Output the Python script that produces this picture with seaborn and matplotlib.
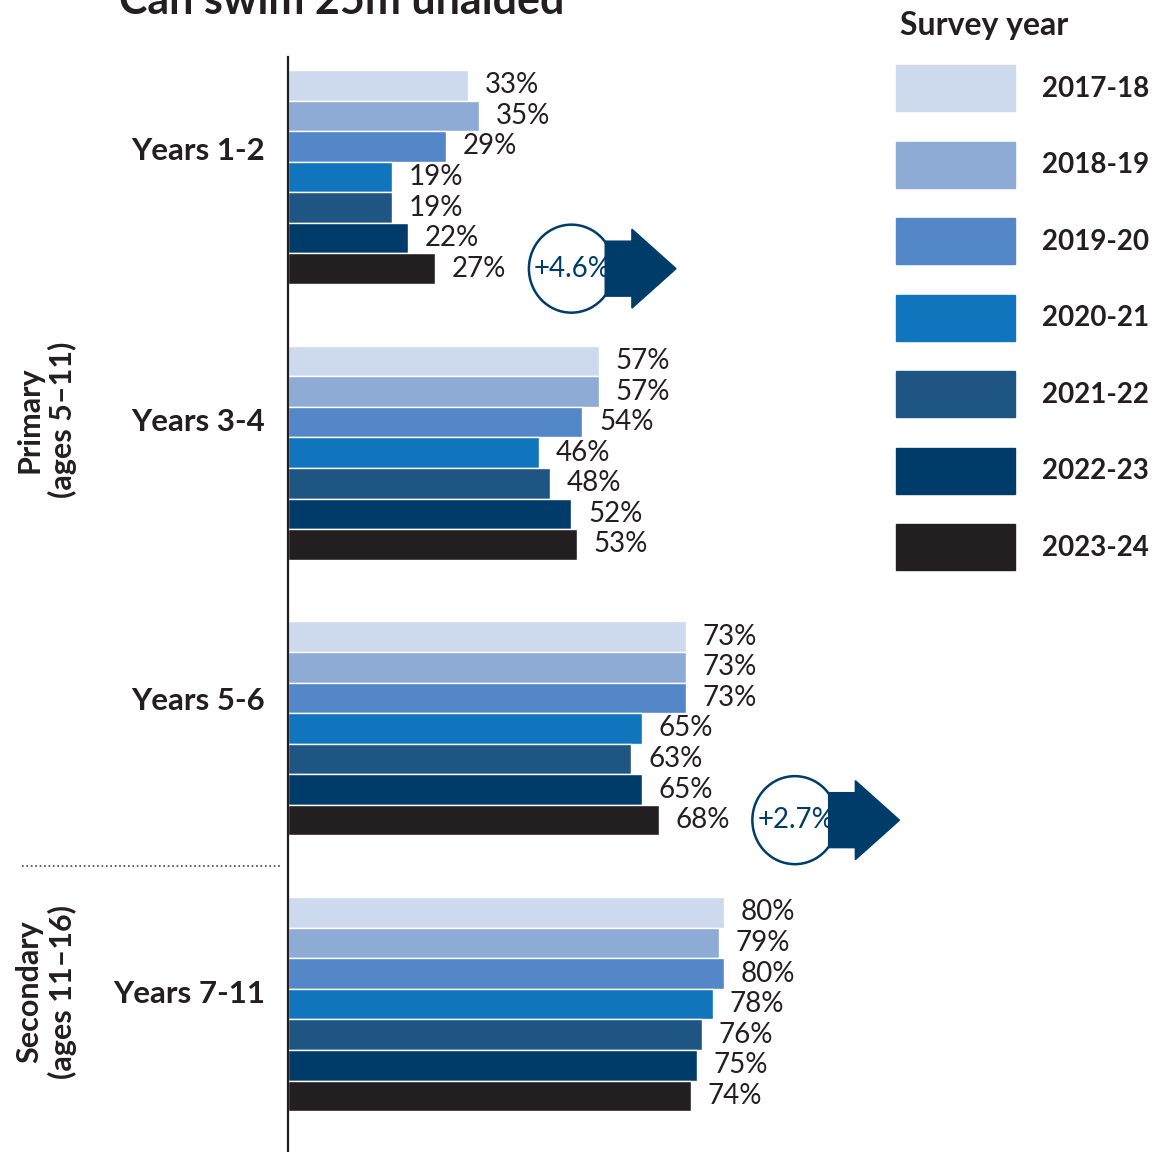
import pandas as pd
import seaborn as sns
import matplotlib.pyplot as plt
import matplotlib.patches as mpatches
import matplotlib.transforms as mtransforms

# data
groups = ["Years 1-2", "Years 3-4", "Years 5-6", "Years 7-11"]
years = ["2017-18", "2018-19", "2019-20", "2020-21", "2021-22", "2022-23", "2023-24"]
v_2017_18 = [33, 57, 73, 80]
v_2018_19 = [35, 57, 73, 79]
v_2019_20 = [29, 54, 73, 80]
v_2020_21 = [19, 46, 65, 78]
v_2021_22 = [19, 48, 63, 76]
v_2022_23 = [22, 52, 65, 75]
v_2023_24 = [27, 53, 68, 74]
change_groups = ["Years 1-2", "Years 5-6"]
change_labels = ["+4.6%", "+2.7%"]

colors = ["#CDD9EC", "#8EABD6", "#5387C7", "#1075BC", "#1F5582", "#003C6A", "#231F20"]
navy = "#003C6A"
ink = "#231F20"

series = [v_2017_18, v_2018_19, v_2019_20, v_2020_21, v_2021_22, v_2022_23, v_2023_24]
rows = []
for yr, vals in zip(years, series):
    for g, v in zip(groups, vals):
        rows.append({"group": g, "year": yr, "value": v})
df = pd.DataFrame(rows)

sns.set_style("white")
plt.rcParams["font.family"] = ["Lato", "DejaVu Sans"]
plt.rcParams["text.color"] = ink

W, H = 1164, 1152
fig = plt.figure(figsize=(W / 100, H / 100), dpi=100)
ax = fig.add_axes([288 / W, 0, 1 - 288 / W, 1 - 57 / H])

sns.barplot(data=df, x="value", y="group", hue="year", order=groups, hue_order=years,
            palette=colors, orient="h", width=0.776, errorbar=None, legend=False,
            saturation=1, ax=ax)

xmax = (W - 288) / 5.45
ax.set_xlim(0, xmax)
ax.set_ylim(3.536, -0.435)
ax.set_xticks([])
ax.set_yticks([])
ax.set_xlabel("")
ax.set_ylabel("")
for s in ["top", "right", "bottom"]:
    ax.spines[s].set_visible(False)
ax.spines["left"].set_color(ink)
ax.spines["left"].set_linewidth(1.6)

for cont in ax.containers:
    ax.bar_label(cont, fmt="%.0f%%", padding=12, fontsize=20, color=ink)

# group labels on the left
trans = mtransforms.blended_transform_factory(fig.transFigure, ax.transData)
label_dy = [-0.095, -0.11, -0.1, -0.036]
for i, g in enumerate(groups):
    ax.text(265 / W, i + label_dy[i], g, transform=trans, ha="right", va="center",
            fontsize=22.5, fontweight="bold", color=ink)

# phase labels and divider
fig.text(46 / W, 1 - 420 / H, "Primary\n(ages 5–11)", rotation=90, ha="center",
         va="center", multialignment="center", fontsize=22, fontweight="bold",
         linespacing=1.2)
fig.text(46 / W, 1 - 992 / H, "Secondary\n(ages 11–16)", rotation=90, ha="center",
         va="center", multialignment="center", fontsize=22, fontweight="bold",
         linespacing=1.2)
ax.plot([22 / W, 282 / W], [2.5, 2.5], transform=trans, ls=":", color="#444444",
        lw=1.2, clip_on=False)

# change badges
last = ax.containers[-1]
for g, lab in zip(change_groups, change_labels):
    gi = groups.index(g)
    bar = last[gi]
    cy = bar.get_y() + bar.get_height() / 2
    cx = v_2023_24[gi] + 25
    circ = mpatches.Ellipse((cx, cy), 85 / 5.45, 88 / 275.7, facecolor="white",
                            edgecolor=navy, lw=1.8, zorder=3, clip_on=False)
    ax.add_patch(circ)
    arr = mpatches.FancyArrow(cx + 6.2, cy, 13.0, 0, width=55 / 275.7,
                              head_width=79 / 275.7, head_length=8.1,
                              length_includes_head=True, color=navy, zorder=4,
                              clip_on=False)
    ax.add_patch(arr)
    ax.text(cx + 0.2, cy, lab, ha="center", va="center", fontsize=20, color=navy,
            zorder=5)

# legend
handles = [mpatches.Patch(color=c) for c in colors]
fig.legend(handles, years, loc="upper left", bbox_to_anchor=(896 / W, 1 - 65 / H),
           bbox_transform=fig.transFigure, frameon=False,
           prop={"weight": "bold", "size": 20}, handlelength=4.3, handleheight=2.17,
           labelspacing=1.1, handletextpad=0.95, borderpad=0, borderaxespad=0)
fig.text(900 / W, 1 - 25 / H, "Survey year", ha="left", va="center", fontsize=23,
         fontweight="bold")

fig.text(342 / W, 1 - 14 / H, "Can swim 25m unaided", ha="center", va="baseline",
         fontsize=31, fontweight="bold")

fig.savefig("out.png", dpi=100)
